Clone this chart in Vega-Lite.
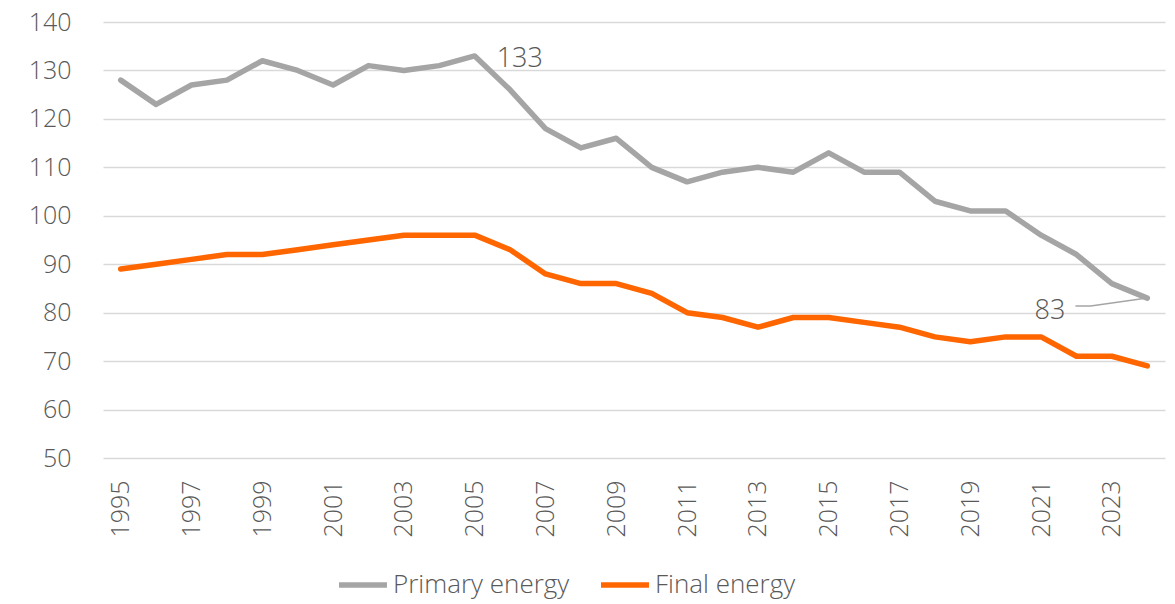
{
  "$schema": "https://vega.github.io/schema/vega-lite/v6.json",
  "width": 1062,
  "height": 436,
  "autosize": "none",
  "padding": {"left": 103, "top": 22, "right": 10, "bottom": 146},
  "background": "white",
  "config": {
    "view": {"stroke": null},
    "font": "Open Sans",
    "axis": {"labelFont": "Open Sans", "labelFontWeight": 300, "labelColor": "#595959", "labelFontSize": 25},
    "legend": {"labelFont": "Open Sans", "labelFontWeight": 300, "labelColor": "#595959", "labelFontSize": 26, "labelLimit": 400}
  },
  "datasets": {
    "series": [
      {"year": 1995, "series": "Primary energy", "value": 128},
      {"year": 1996, "series": "Primary energy", "value": 123},
      {"year": 1997, "series": "Primary energy", "value": 127},
      {"year": 1998, "series": "Primary energy", "value": 128},
      {"year": 1999, "series": "Primary energy", "value": 132},
      {"year": 2000, "series": "Primary energy", "value": 130},
      {"year": 2001, "series": "Primary energy", "value": 127},
      {"year": 2002, "series": "Primary energy", "value": 131},
      {"year": 2003, "series": "Primary energy", "value": 130},
      {"year": 2004, "series": "Primary energy", "value": 131},
      {"year": 2005, "series": "Primary energy", "value": 133},
      {"year": 2006, "series": "Primary energy", "value": 126},
      {"year": 2007, "series": "Primary energy", "value": 118},
      {"year": 2008, "series": "Primary energy", "value": 114},
      {"year": 2009, "series": "Primary energy", "value": 116},
      {"year": 2010, "series": "Primary energy", "value": 110},
      {"year": 2011, "series": "Primary energy", "value": 107},
      {"year": 2012, "series": "Primary energy", "value": 109},
      {"year": 2013, "series": "Primary energy", "value": 110},
      {"year": 2014, "series": "Primary energy", "value": 109},
      {"year": 2015, "series": "Primary energy", "value": 113},
      {"year": 2016, "series": "Primary energy", "value": 109},
      {"year": 2017, "series": "Primary energy", "value": 109},
      {"year": 2018, "series": "Primary energy", "value": 103},
      {"year": 2019, "series": "Primary energy", "value": 101},
      {"year": 2020, "series": "Primary energy", "value": 101},
      {"year": 2021, "series": "Primary energy", "value": 96},
      {"year": 2022, "series": "Primary energy", "value": 92},
      {"year": 2023, "series": "Primary energy", "value": 86},
      {"year": 2024, "series": "Primary energy", "value": 83},
      {"year": 1995, "series": "Final energy", "value": 89},
      {"year": 1996, "series": "Final energy", "value": 90},
      {"year": 1997, "series": "Final energy", "value": 91},
      {"year": 1998, "series": "Final energy", "value": 92},
      {"year": 1999, "series": "Final energy", "value": 92},
      {"year": 2000, "series": "Final energy", "value": 93},
      {"year": 2001, "series": "Final energy", "value": 94},
      {"year": 2002, "series": "Final energy", "value": 95},
      {"year": 2003, "series": "Final energy", "value": 96},
      {"year": 2004, "series": "Final energy", "value": 96},
      {"year": 2005, "series": "Final energy", "value": 96},
      {"year": 2006, "series": "Final energy", "value": 93},
      {"year": 2007, "series": "Final energy", "value": 88},
      {"year": 2008, "series": "Final energy", "value": 86},
      {"year": 2009, "series": "Final energy", "value": 86},
      {"year": 2010, "series": "Final energy", "value": 84},
      {"year": 2011, "series": "Final energy", "value": 80},
      {"year": 2012, "series": "Final energy", "value": 79},
      {"year": 2013, "series": "Final energy", "value": 77},
      {"year": 2014, "series": "Final energy", "value": 79},
      {"year": 2015, "series": "Final energy", "value": 79},
      {"year": 2016, "series": "Final energy", "value": 78},
      {"year": 2017, "series": "Final energy", "value": 77},
      {"year": 2018, "series": "Final energy", "value": 75},
      {"year": 2019, "series": "Final energy", "value": 74},
      {"year": 2020, "series": "Final energy", "value": 75},
      {"year": 2021, "series": "Final energy", "value": 75},
      {"year": 2022, "series": "Final energy", "value": 71},
      {"year": 2023, "series": "Final energy", "value": 71},
      {"year": 2024, "series": "Final energy", "value": 69}
    ],
    "leader": [
      {"year": 2021.97, "value": 81.4},
      {"year": 2022.4, "value": 81.4},
      {"year": 2023.95, "value": 83}
    ],
    "labels": [
      {"year": 2005, "value": 133, "label": "133"}
    ],
    "labels2": [
      {"year": 2024, "value": 83, "label": "83"}
    ]
  },
  "layer": [
    {
      "data": {"name": "series"},
      "mark": {"type": "line", "strokeWidth": 5.5, "strokeCap": "round", "strokeJoin": "round"},
      "encoding": {
        "x": {
          "field": "year", "type": "quantitative",
          "scale": {"domain": [1994.5, 2024.5], "nice": false, "zero": false},
          "axis": {
            "values": [1995, 1997, 1999, 2001, 2003, 2005, 2007, 2009, 2011, 2013, 2015, 2017, 2019, 2021, 2023],
            "format": "d", "labelAngle": -90, "labelAlign": "right", "labelBaseline": "middle",
            "grid": false, "domain": false, "ticks": false, "labelPadding": 22, "title": null
          }
        },
        "y": {
          "field": "value", "type": "quantitative",
          "scale": {"domain": [50, 140], "nice": false, "zero": false},
          "axis": {
            "values": [50, 60, 70, 80, 90, 100, 110, 120, 130, 140],
            "grid": true, "gridColor": "#d9d9d9", "gridWidth": 1.5,
            "domain": false, "ticks": false, "labelPadding": 32, "title": null
          }
        },
        "color": {
          "field": "series", "type": "nominal",
          "scale": {"domain": ["Primary energy", "Final energy"], "range": ["#A5A5A5", "#FF6600"]},
          "legend": {
            "title": null, "orient": "none", "direction": "horizontal",
            "legendX": 233, "legendY": 536,
            "symbolType": "stroke", "symbolSize": 2300, "symbolStrokeWidth": 5.5,
            "labelOffset": 3, "columnPadding": 20
          }
        },
        "order": {"field": "year"}
      }
    },
    {
      "data": {"name": "leader"},
      "mark": {"type": "line", "color": "#A5A5A5", "strokeWidth": 1.5},
      "encoding": {
        "x": {"field": "year", "type": "quantitative"},
        "y": {"field": "value", "type": "quantitative"}
      }
    },
    {
      "data": {"name": "labels"},
      "mark": {"type": "text", "align": "left", "baseline": "middle", "dx": 22, "dy": 3, "fontSize": 27, "fontWeight": 300, "color": "#595959", "font": "Open Sans"},
      "encoding": {
        "x": {"field": "year", "type": "quantitative"},
        "y": {"field": "value", "type": "quantitative"},
        "text": {"field": "label"}
      }
    },
    {
      "data": {"name": "labels2"},
      "mark": {"type": "text", "align": "right", "baseline": "middle", "dx": -82, "dy": 13, "fontSize": 27, "fontWeight": 300, "color": "#595959", "font": "Open Sans"},
      "encoding": {
        "x": {"field": "year", "type": "quantitative"},
        "y": {"field": "value", "type": "quantitative"},
        "text": {"field": "label"}
      }
    }
  ]
}
